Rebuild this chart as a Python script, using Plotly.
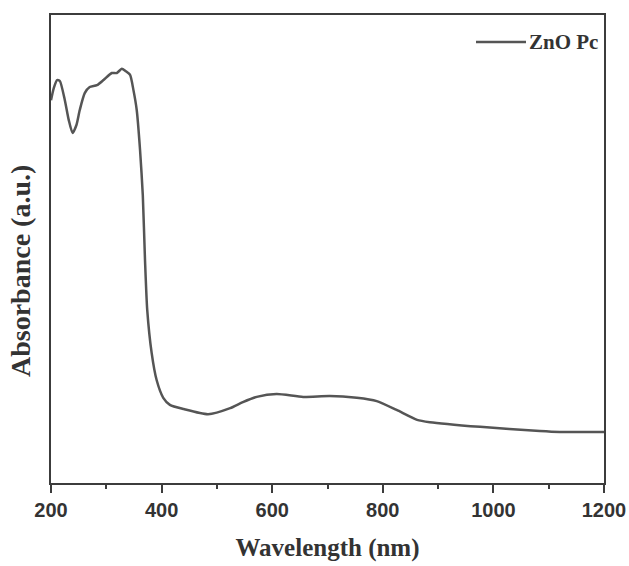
import plotly.graph_objects as go

# UV-Vis absorption spectrum of ZnO Pc
wavelength_nm = [200, 205, 211, 216, 225, 232, 239, 246, 252, 261, 270, 283, 295,
                 310, 319, 328, 335, 343, 349, 355, 361, 366, 370, 374, 382, 391,
                 403, 415, 440, 484, 524, 547, 572, 608, 656, 704, 753, 789, 825,
                 862, 885, 976, 1084, 1120, 1200]
absorbance_au = [0.818, 0.844, 0.861, 0.859, 0.818, 0.776, 0.748, 0.765, 0.797,
                 0.833, 0.846, 0.850, 0.861, 0.876, 0.876, 0.885, 0.880, 0.872,
                 0.840, 0.797, 0.712, 0.615, 0.476, 0.370, 0.278, 0.220, 0.182,
                 0.167, 0.158, 0.147, 0.160, 0.173, 0.184, 0.190, 0.184, 0.186,
                 0.182, 0.175, 0.156, 0.135, 0.130, 0.120, 0.111, 0.109, 0.109]
series_name = "ZnO Pc"
x_ticks = [200, 400, 600, 800, 1000, 1200]

line_color = "#555555"
axis_color = "#3c3c3c"
text_color = "#333333"

ML, MR, MT, MB = 51, 25, 15, 83
W, H = 629, 566
PW, PH = W - ML - MR, H - MT - MB

fig = go.Figure()
fig.add_trace(go.Scatter(
    x=wavelength_nm, y=absorbance_au, mode="lines", name=series_name,
    line=dict(color=line_color, width=2.5, shape="spline", smoothing=0.6),
    showlegend=False,
))

fig.update_layout(
    width=W, height=H,
    margin=dict(l=ML, r=MR, t=MT, b=MB, autoexpand=False),
    paper_bgcolor="white", plot_bgcolor="white",
    xaxis=dict(
        range=[200, 1200], tickvals=x_ticks, automargin=False,
        ticks="outside", ticklen=8, tickwidth=2, tickcolor=axis_color,
        minor=dict(ticks="outside", ticklen=4, tickwidth=2, tickcolor=axis_color, dtick=100),
        showline=True, linecolor=axis_color, linewidth=2, mirror=True,
        showgrid=False, zeroline=False,
        tickfont=dict(family="Liberation Sans", size=20, color=text_color, weight="bold"),
        title=dict(text="Wavelength (nm)", standoff=18,
                   font=dict(family="Liberation Serif", size=25, color=text_color, weight="bold")),
    ),
    yaxis=dict(
        range=[0, 1], showticklabels=False, ticks="", automargin=False,
        showline=True, linecolor=axis_color, linewidth=2, mirror=True,
        showgrid=False, zeroline=False,
    ),
)

# y-axis title, placed a little below the plot centre
fig.add_annotation(text="Absorbance (a.u.)", xref="paper", yref="paper",
                   x=(20 - ML) / PW, y=(H - MB - 271) / PH,
                   xanchor="center", yanchor="middle", textangle=-90, showarrow=False,
                   font=dict(family="Liberation Serif", size=28, color=text_color, weight="bold"))

# legend sample line and label
fig.add_shape(type="line", xref="paper", yref="paper",
              x0=(476 - ML) / PW, x1=(526 - ML) / PW,
              y0=(H - MB - 42) / PH, y1=(H - MB - 42) / PH,
              line=dict(color=line_color, width=2.5))
fig.add_annotation(text=series_name, xref="paper", yref="paper",
                   x=(527 - ML) / PW, y=(H - MB - 42) / PH,
                   xanchor="left", yanchor="middle", showarrow=False,
                   font=dict(family="Liberation Serif", size=21, color=text_color, weight="bold"))

fig.write_html("out.html")
